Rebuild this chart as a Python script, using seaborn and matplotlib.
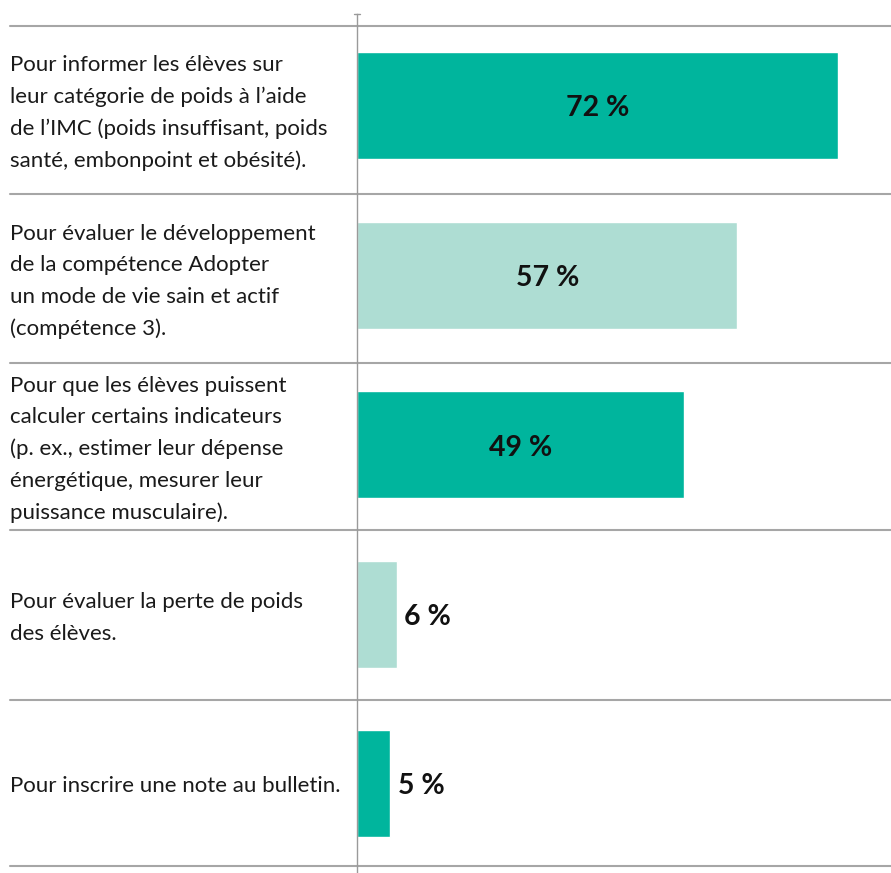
import matplotlib
matplotlib.use("Agg")
import matplotlib.pyplot as plt
import seaborn as sns
import pandas as pd

categories = [
    "Pour informer les élèves sur\nleur catégorie de poids à l’aide\nde l’IMC (poids insuffisant, poids\nsanté, embonpoint et obésité).",
    "Pour évaluer le développement\nde la compétence Adopter\nun mode de vie sain et actif\n(compétence 3).",
    "Pour que les élèves puissent\ncalculer certains indicateurs\n(p. ex., estimer leur dépense\nénergétique, mesurer leur\npuissance musculaire).",
    "Pour évaluer la perte de poids\ndes élèves.",
    "Pour inscrire une note au bulletin.",
]
values = [72, 57, 49, 6, 5]
value_labels = ["72 %", "57 %", "49 %", "6 %", "5 %"]
bar_colors = ["#00B59D", "#AEDDD3", "#00B59D", "#AEDDD3", "#00B59D"]

sns.set_theme(style="white")
plt.rcParams["font.family"] = ["Lato", "DejaVu Sans"]

df = pd.DataFrame({"cat": categories, "val": values})

W, H = 891, 873
fig = plt.figure(figsize=(W / 100, H / 100), dpi=100)
ax_left = 357 / W
ax_top = 14
ax_bottom = 873
ax = fig.add_axes([ax_left, 1 - ax_bottom / H, 1 - ax_left, (ax_bottom - ax_top) / H])

# pixel geometry of rows
first_center = 105.5
step = 169.5

def to_data(p):
    return (p - first_center) / step

sns.barplot(data=df, y="cat", x="val", hue="cat", palette=bar_colors,
            orient="h", width=107 / step, legend=False, ax=ax, saturation=1)

ax.set_xlim(0, 80)
ax.set_ylim(to_data(ax_bottom), to_data(ax_top))
ax.set_xlabel("")
ax.set_ylabel("")
ax.set_xticks([])
ax.set_yticks([])
for s in ["top", "right", "bottom"]:
    ax.spines[s].set_visible(False)
ax.spines["left"].set_color("#9a9a9a")
ax.spines["left"].set_linewidth(1.0)

# separators
sep_px = [26, 194, 363, 530, 700, 866]
xmin_frac = -(357 - 10) / (W - 357)
for p in sep_px:
    ax.axhline(to_data(p), xmin=xmin_frac, xmax=1, color="#a6a6a6", lw=1.5, clip_on=False)

# small top tick
fig.lines.append(plt.Line2D([354 / W, 360 / W], [1 - 14 / H, 1 - 14 / H],
                            transform=fig.transFigure, color="#9a9a9a", lw=1))

# category labels
for i, c in enumerate(categories):
    yc = (sep_px[i] + sep_px[i + 1]) / 2 + 3
    fig.text(10 / W, 1 - yc / H, c, ha="left", va="center", fontsize=16,
             color="#1a1a1a", linespacing=1.70)

# value labels
dy = 3 / step
for i, (v, lab) in enumerate(zip(values, value_labels)):
    if v > 20:
        ax.text(v / 2, i + dy, lab, ha="center", va="center", fontsize=20.5,
                fontweight="bold", color="#111111")
    else:
        ax.text(v + 1.1, i + dy, lab, ha="left", va="center", fontsize=20.5,
                fontweight="bold", color="#111111")

fig.savefig("out.png", dpi=100)
